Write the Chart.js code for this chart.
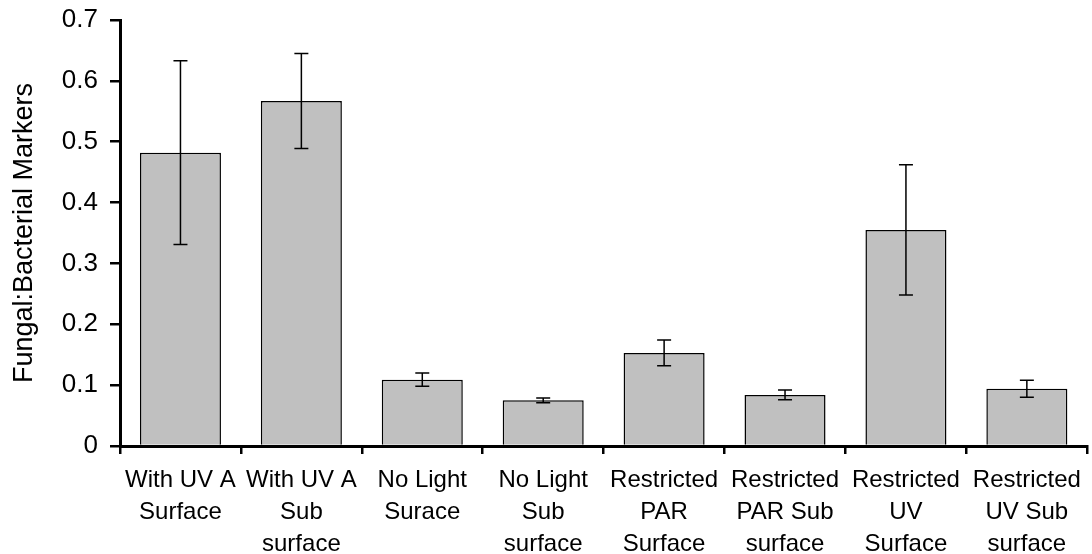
<!DOCTYPE html>
<html>
<head>
<meta charset="utf-8">
<script src="https://cdn.jsdelivr.net/npm/chart.js@4"></script>
<style>
  body { margin: 0; background: #fff; }
  #wrap { width: 1092px; height: 554px; }
</style>
</head>
<body>
<div id="wrap">
  <canvas id="myChart" width="1092" height="554"></canvas>
</div>
<script type="text/javascript">
// category labels, split on lines as in the original figure
var categories = [
  ["With UV A", "Surface"],
  ["With UV A", "Sub", "surface"],
  ["No Light", "Surace"],
  ["No Light", "Sub", "surface"],
  ["Restricted", "PAR", "Surface"],
  ["Restricted", "PAR Sub", "surface"],
  ["Restricted", "UV", "Surface"],
  ["Restricted", "UV Sub", "surface"]
];

// fungal:bacterial ratio, means and +/- error
var ratioMeans = [0.482, 0.567, 0.109, 0.075, 0.153, 0.084, 0.355, 0.094];
var ratioErrors = [0.151, 0.078, 0.011, 0.004, 0.021, 0.008, 0.107, 0.014];

var yTicks = [0, 0.1, 0.2, 0.3, 0.4, 0.5, 0.6, 0.7];

var fontFamily = "'Liberation Sans', Arial, sans-serif";

// draws the error bars from the y scale
var errorBars = {
  id: 'errorBars',
  afterDatasetsDraw(chart) {
    var ctx = chart.ctx;
    var y = chart.scales.y;
    var meta = chart.getDatasetMeta(0);
    ctx.save();
    ctx.strokeStyle = '#000';
    ctx.lineWidth = 1.5;
    meta.data.forEach((bar, i) => {
      var top = y.getPixelForValue(ratioMeans[i] + ratioErrors[i]);
      var bot = y.getPixelForValue(ratioMeans[i] - ratioErrors[i]);
      var cap = 7;
      ctx.beginPath();
      ctx.moveTo(bar.x, top);
      ctx.lineTo(bar.x, bot);
      ctx.moveTo(bar.x - cap, top);
      ctx.lineTo(bar.x + cap, top);
      ctx.moveTo(bar.x - cap, bot);
      ctx.lineTo(bar.x + cap, bot);
      ctx.stroke();
    });
    ctx.restore();
  }
};

var config = {
  type: 'bar',
  data: {
    labels: categories,
    datasets: [{
      data: ratioMeans,
      backgroundColor: '#c0c0c0',
      borderColor: '#000',
      borderWidth: 1.5,
      categoryPercentage: 1,
      barPercentage: 0.67
    }]
  },
  options: {
    responsive: false,
    animation: false,
    layout: { padding: { top: 20, right: 2, left: 0, bottom: 0 } },
    plugins: {
      legend: { display: false },
      tooltip: { enabled: false }
    },
    scales: {
      x: {
        grid: {
          display: true,
          drawOnChartArea: false,
          drawTicks: true,
          tickLength: 8,
          color: '#000',
          lineWidth: 2.5,
          offset: true
        },
        border: { color: '#000', width: 3 },
        ticks: {
          color: '#000',
          font: { family: fontFamily, size: 24, lineHeight: 1.32 },
          maxRotation: 0,
          autoSkip: false,
          padding: 11
        },
        afterFit(scale) { scale.height = 108; }
      },
      y: {
        min: 0,
        max: 0.7,
        afterBuildTicks(scale) {
          scale.ticks = yTicks.map(v => ({ value: v }));
        },
        grid: {
          display: true,
          drawOnChartArea: false,
          drawTicks: true,
          tickLength: 10,
          color: '#000',
          lineWidth: 2.5
        },
        border: { color: '#000', width: 3 },
        ticks: {
          color: '#000',
          font: { family: fontFamily, size: 26 },
          padding: 12
        },
        title: {
          display: true,
          text: 'Fungal:Bacterial Markers',
          color: '#000',
          font: { family: fontFamily, size: 27 },
          padding: { top: 8, bottom: 0 }
        },
        afterFit(scale) {
          scale.width = 120;
          scale.paddingTop = 0;
          scale.paddingBottom = 0;
        }
      }
    }
  },
  plugins: [errorBars]
};

var myChart = new Chart(document.getElementById('myChart'), config);
</script>
</body>
</html>
